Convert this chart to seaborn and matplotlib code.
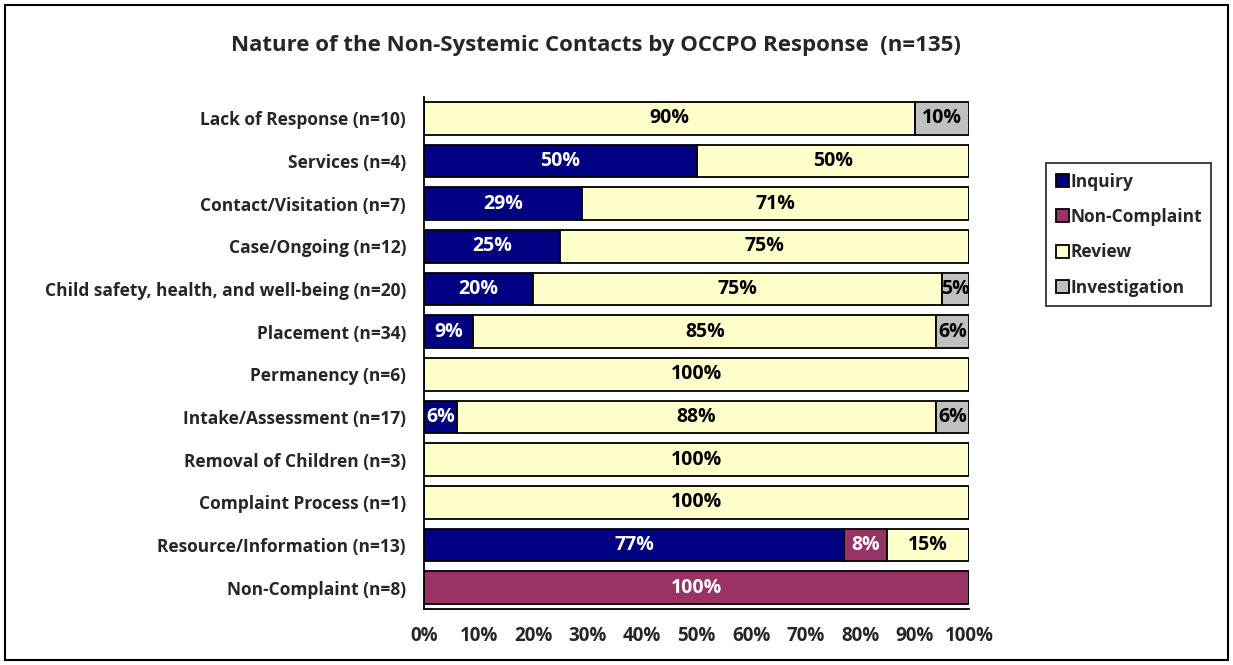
import matplotlib
matplotlib.use("Agg")
import matplotlib.pyplot as plt
from matplotlib.patches import Rectangle
import numpy as np
import seaborn as sns

# Data (percent of contacts per category)
categories = [
    "Lack of Response (n=10)",
    "Services (n=4)",
    "Contact/Visitation (n=7)",
    "Case/Ongoing (n=12)",
    "Child safety, health, and well-being (n=20)",
    "Placement (n=34)",
    "Permanency (n=6)",
    "Intake/Assessment (n=17)",
    "Removal of Children (n=3)",
    "Complaint Process (n=1)",
    "Resource/Information (n=13)",
    "Non-Complaint (n=8)",
]
inquiry = [0, 50, 29, 25, 20, 9, 0, 6, 0, 0, 77, 0]
non_complaint = [0, 0, 0, 0, 0, 0, 0, 0, 0, 0, 8, 100]
review = [90, 50, 71, 75, 75, 85, 100, 88, 100, 100, 15, 0]
investigation = [10, 0, 0, 0, 5, 6, 0, 6, 0, 0, 0, 0]

series_names = ["Inquiry", "Non-Complaint", "Review", "Investigation"]
series_values = [inquiry, non_complaint, review, investigation]
series_colors = ["#000080", "#993366", "#FFFFCC", "#C0C0C0"]
label_colors = ["white", "white", "black", "black"]

sns.set_style("white")
plt.rcParams["font.family"] = ["Open Sans", "DejaVu Sans"]
plt.rcParams["font.weight"] = "bold"

fig = plt.figure(figsize=(12.33, 6.65), dpi=100)
ax = fig.add_axes([0.344, 0.0842, 0.442, 0.770])

y = np.arange(len(categories))
left = np.zeros(len(categories))
for name, vals, col, tcol in zip(series_names, series_values, series_colors, label_colors):
    vals = np.array(vals, dtype=float)
    bars = ax.barh(y, vals, left=left, height=0.76, color=col,
                   edgecolor="black", linewidth=1.3, label=name)
    for b, v in zip(bars, vals):
        if v > 0:
            ax.text(b.get_x() + b.get_width() / 2, b.get_y() + b.get_height() / 2,
                    f"{int(v)}%", ha="center", va="center", color=tcol,
                    fontsize=14, fontweight="bold")
    left += vals

ax.set_xlim(0, 100)
ax.set_ylim(len(categories) - 0.5, -0.5)
ax.set_xticks(np.arange(0, 101, 10))
ax.set_xticklabels([f"{t}%" for t in range(0, 101, 10)], fontsize=13.5, fontweight="bold")
ax.set_yticks(y)
ax.set_yticklabels(categories, fontsize=12.5, fontweight="bold")
ax.set_yticks(np.arange(-0.5, len(categories), 1), minor=True)
ax.tick_params(axis="y", which="major", length=0, pad=13)
ax.tick_params(axis="y", which="minor", length=5, width=1.3, direction="out", color="black")
ax.tick_params(axis="x", which="major", length=5, width=1.3, direction="out", color="black", pad=7)

for s in ["top", "right"]:
    ax.spines[s].set_visible(False)
for s in ["left", "bottom"]:
    ax.spines[s].set_color("black")
    ax.spines[s].set_linewidth(1.3)

fig.text(0.483, 0.932, "Nature of the Non-Systemic Contacts by OCCPO Response  (n=135)",
         ha="center", va="center", fontsize=16, fontweight="bold")

leg = fig.legend(loc="upper left", bbox_to_anchor=(1046 / 1233, 1 - 163 / 665),
                 frameon=True, fancybox=False, edgecolor="black", fontsize=12.5,
                 handlelength=0.75, handleheight=0.75, handletextpad=0.1,
                 labelspacing=1.0, borderpad=0.55, borderaxespad=0)
leg.get_frame().set_linewidth(1.3)
for t in leg.get_texts():
    t.set_fontweight("bold")

# outer chart border
fig.patches.append(Rectangle((5 / 1233, 5 / 665), 1 - 10 / 1233, 1 - 10 / 665,
                             transform=fig.transFigure, fill=False,
                             edgecolor="black", linewidth=1.5))

fig.savefig("out.png", dpi=100)
